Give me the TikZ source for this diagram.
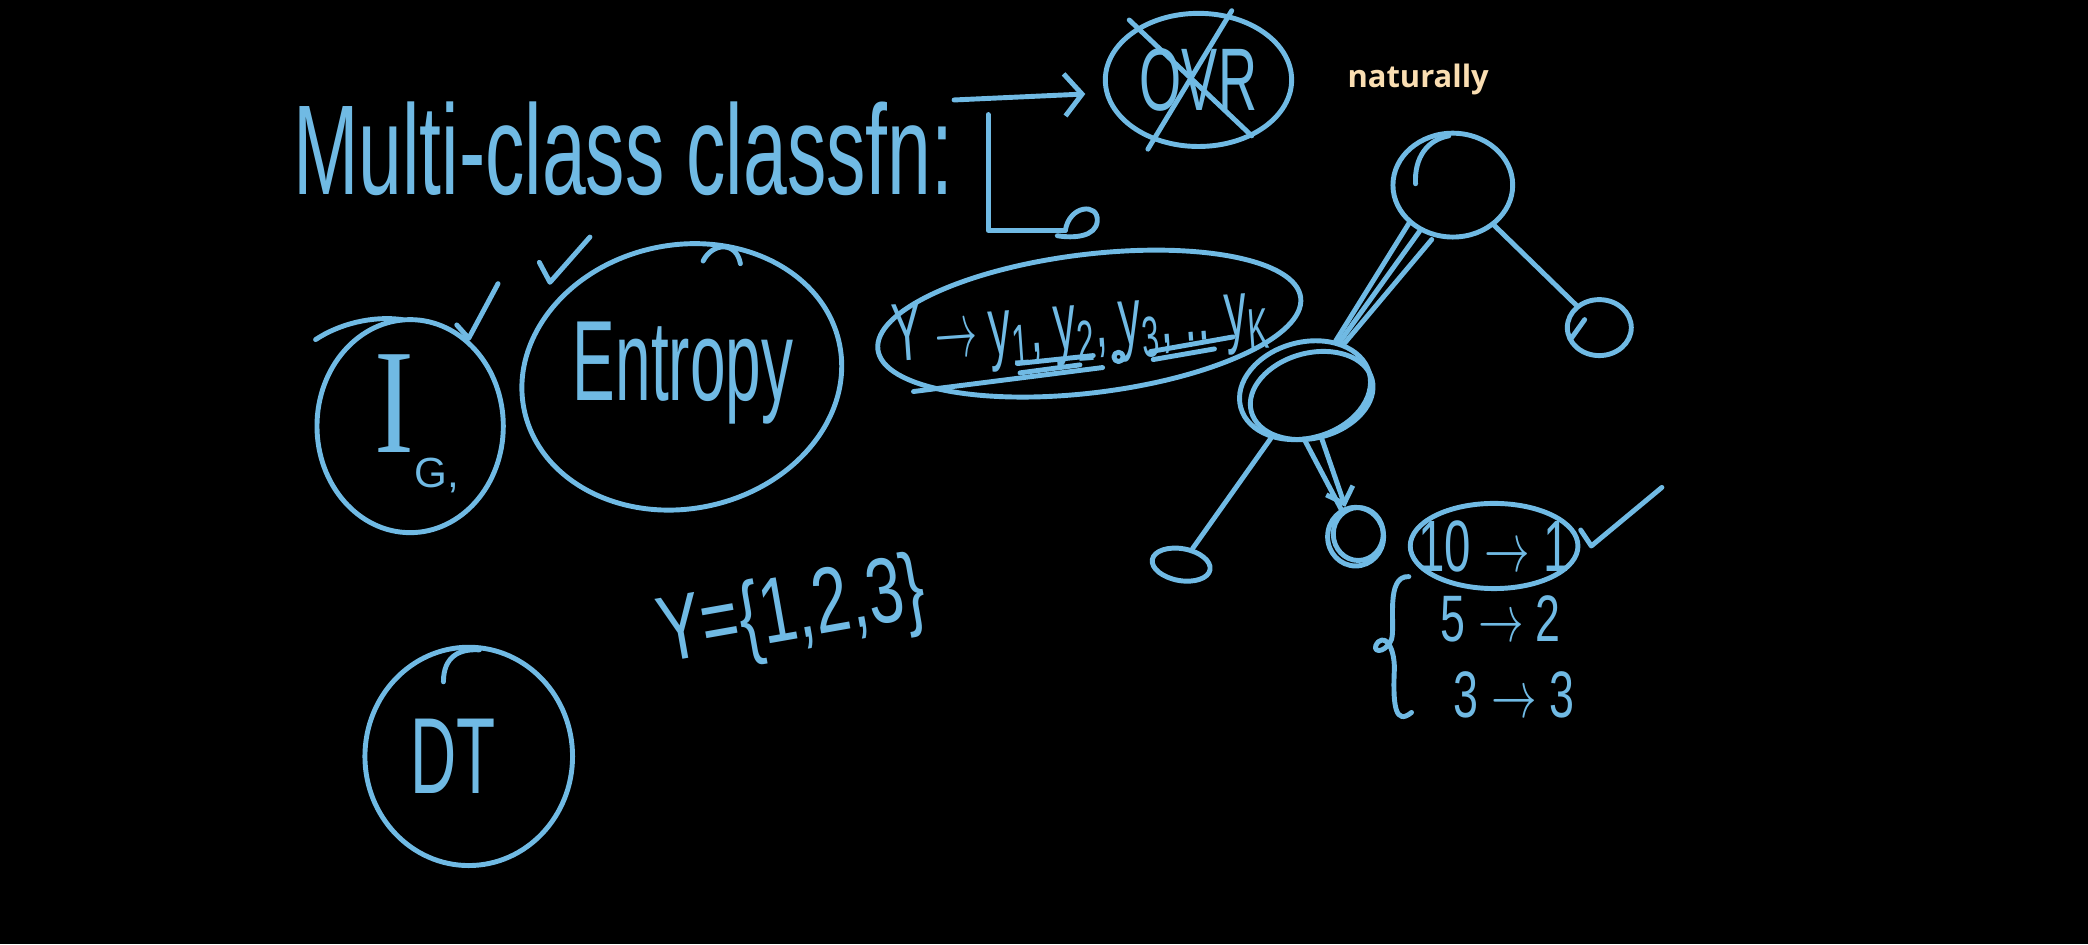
\documentclass[tikz,border=0pt]{standalone}
\usepackage{fontspec}
\setmainfont{Liberation Sans}
\newfontfamily\notefont{Open Sans}
\newfontfamily\seriffont{Liberation Serif}
\usepackage{graphicx}
\usetikzlibrary{positioning,arrows.meta,shapes.geometric}
\definecolor{chalk}{RGB}{112,186,228}
\definecolor{note}{RGB}{250,222,178}

\begin{document}
\begin{tikzpicture}[
  x=0.013316cm, y=-0.013316cm,
  hand/.style={draw=chalk, line width=1.4pt, line cap=round, line join=round},
  blob/.style={hand, ellipse, inner sep=0pt},
  scrawl/.style={text=chalk, inner sep=0pt},
  arr/.style={hand, -{Straight Barb[length=5pt,width=12pt]}},
  tip/.style={hand, -{Straight Barb[length=4pt,width=8pt]}},
]
\path[use as bounding box, fill=black] (0,0) rectangle (1568,709);

% ---- heading, crossed-out OVR and the hook down to the label set ----
\node[scrawl, font=\fontsize{28}{30}\selectfont] at (468,112) (mc) {\scalebox{0.8}[1.3]{Multi-class classfn:}};
\node[blob, minimum width=1.864cm, minimum height=1.332cm] at (900,60) (ovr) {};
\node[scrawl, font=\fontsize{22}{24}\selectfont] at (ovr) (ovrlab) {\scalebox{0.7}[1.15]{OVR}};
\draw[hand] (848,15) -- (940,102);
\draw[hand] (925,8) -- (862,112);
\draw[arr] ([yshift=14pt]mc.east) -- ([xshift=-5pt,yshift=-4pt]ovr.west);
\coordinate (hook) at (742,86);
\coordinate (hookend) at (800,173);
\draw[hand] (hook) |- (hookend);
\draw[hand] (hookend) .. controls (803,154) and (825,152) .. (824,166) .. controls (823,178) and (806,179) .. (794,177);
\node[text=note, font=\notefont\bfseries\fontsize{8.8}{10}\selectfont, inner sep=0pt] at (1065,60) (nat) {naturally};

% ---- Y -> y1 ... yK ----
\node[blob, rotate=7, minimum width=4.261cm, minimum height=1.385cm] at (818,243) (yset) {};
\node[scrawl, rotate=4, font=\fontsize{18}{20}\selectfont] at (812,247) (ylab)
  {\scalebox{0.7}[1.3]{Y $\rightarrow$ y\textsubscript{1}, y\textsubscript{2}, y\textsubscript{3}, .. y\textsubscript{K}}};
\draw[hand] (686,294) -- (828,276);
\draw[hand] (764,273) -- (821,267);
\draw[hand] (766,280) -- (811,274);
\draw[hand] (840,268) circle[radius=3.5];
\draw[hand] (864,264) -- (926,253);
\draw[hand] (866,270) -- (912,262);

% ---- IG and entropy ----
\node[blob, minimum width=1.864cm, minimum height=2.131cm] at (308,320) (ig) {};
\node[scrawl] at (313,318) (iglab)
  {{\seriffont\fontsize{34}{36}\selectfont\scalebox{1}[1.25]{I}}\raisebox{-10pt}{\fontsize{12}{14}\selectfont G,}};
\draw[hand] (237,255) .. controls (255,243) and (280,237) .. (302,240);
\draw[hand] (343,244) -- (352,254) -- (374,213);
\draw[hand] (405,197) -- (413,212) -- (443,178);
\node[blob, rotate=12, minimum width=3.222cm, minimum height=2.637cm] at (512,283) (ent) {};
\node[scrawl, font=\fontsize{26}{28}\selectfont] at (513,280) (entlab) {\scalebox{0.7}[1.25]{Entropy}};
\draw[hand] (528,196) .. controls (535,182) and (553,181) .. (556,198);

% ---- Y = {1,2,3} and DT ----
\node[scrawl, rotate=10, font=\fontsize{24}{26}\selectfont] at (595,462) (yeq) {\scalebox{0.77}[1.1]{Y=\{1,2,3\}}};
\node[blob, minimum width=2.077cm, minimum height=2.184cm] at (352,568) (dt) {};
\node[scrawl, font=\fontsize{28}{30}\selectfont] at (340,568) (dtlab) {\scalebox{0.65}[1.1]{DT}};
\draw[hand] (333,512) .. controls (333,493) and (345,487) .. (360,488);

% ---- the tree ----
\node[blob, minimum width=1.198cm, minimum height=1.039cm] at (1091,139) (root) {};
\draw[hand] (1063,138) .. controls (1062,118) and (1072,105) .. (1088,102);
\node[blob, minimum width=0.64cm, minimum height=0.56cm] at (1201,246) (rc) {};
\node[blob, rotate=15, minimum width=1.332cm, minimum height=0.959cm] at (980,293) (lc) {};
\node[blob, rotate=15, minimum width=1.25cm, minimum height=0.85cm] at (985,297) (lcin) {};
\node[blob, minimum width=0.56cm, minimum height=0.586cm] at (1018,403) (rl) {};
\node[blob, minimum width=0.5cm, minimum height=0.53cm] at (1020,401) (rlin) {};
\node[blob, rotate=-10, minimum width=0.586cm, minimum height=0.32cm] at (887,424) (ll) {};
\draw[hand] (root) -- (lc);
\draw[hand] ([xshift=-6pt]root.south) -- (lc);
\draw[hand] (root.south west) -- (lc);
\draw[hand] (root) -- (rc);
\draw[hand] (1190,240) -- (1180,254);
\draw[hand] (lc) -- (ll);
\draw[tip] (lc) -- (rl);
\draw[hand] ([xshift=-4pt]lc.south) -- (rl);

% ---- counts at the leaf ----
\node[blob, minimum width=1.678cm, minimum height=0.852cm] at (1122,410) (ten) {};
\node[scrawl, font=\fontsize{18}{20}\selectfont] at (ten) (tenlab) {\scalebox{0.75}[1.15]{10 $\rightarrow$ 1}};
\node[scrawl, font=\fontsize{17}{19}\selectfont] at (1127,465) (five) {\scalebox{0.75}[1.1]{5 $\rightarrow$ 2}};
\node[scrawl, font=\fontsize{17}{19}\selectfont] at (1137,522) (three) {\scalebox{0.75}[1.1]{3 $\rightarrow$ 3}};
\draw[hand] (1187,398) -- (1195,410) -- (1248,366);
\draw[hand] (1058,433) .. controls (1040,432) and (1048,470) .. (1045,480)
  .. controls (1040,492) and (1028,490) .. (1035,482)
  .. controls (1042,476) and (1048,490) .. (1047,505)
  .. controls (1046,530) and (1048,545) .. (1060,535);
\end{tikzpicture}
\end{document}
